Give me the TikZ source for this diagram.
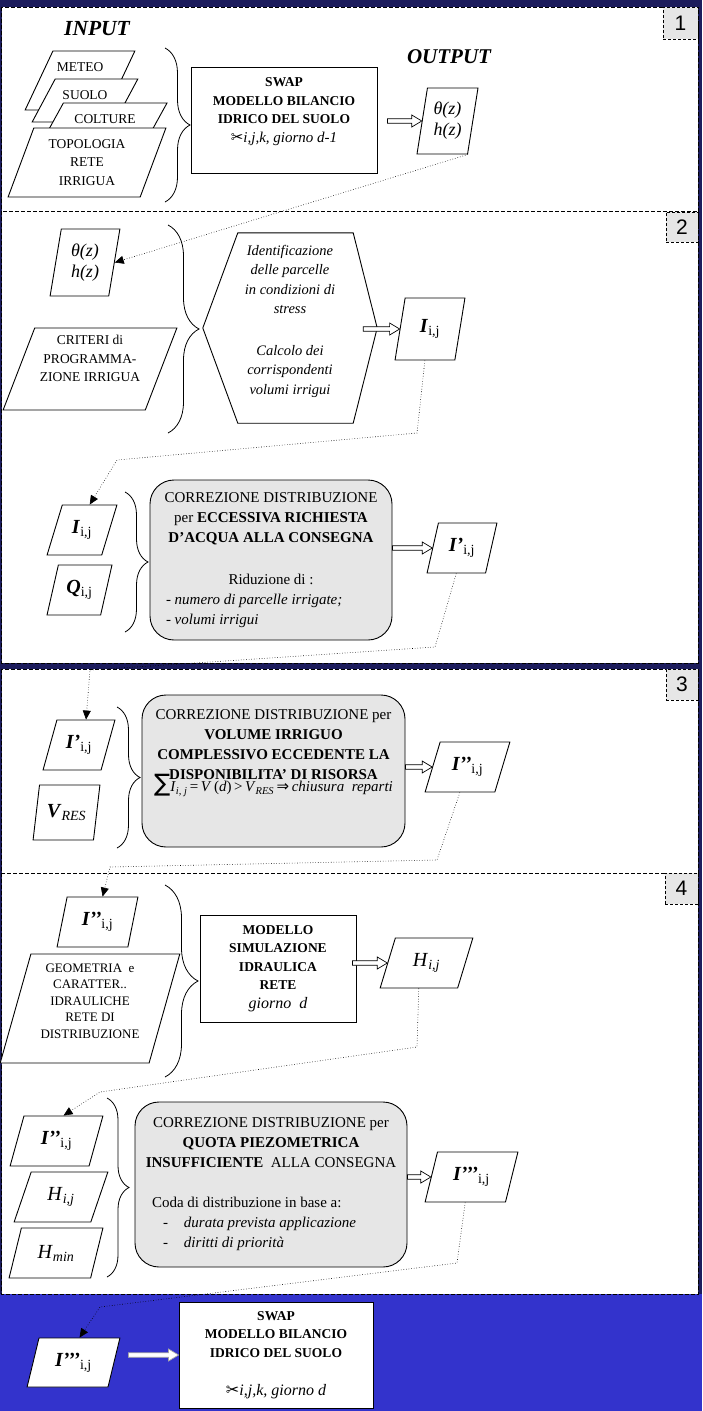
\documentclass[tikz,border=0pt]{standalone}
\usepackage{fontspec}
\setmainfont{Liberation Serif}
\newfontfamily\numfont{Liberation Sans}
\newfontfamily\symfont{DejaVu Sans}
\usetikzlibrary{arrows.meta,shapes.geometric,decorations.pathreplacing,calc}

\definecolor{navy}{RGB}{28,28,92}
\definecolor{royal}{RGB}{51,51,204}
\definecolor{boxgray}{RGB}{230,230,230}

\tikzset{
  panel/.style={draw, fill=white, line width=0.8pt, dash pattern=on 4pt off 2pt},
  numbox/.style={draw, fill=boxgray, line width=0.7pt, dash pattern=on 3pt off 2pt,
    inner sep=0pt, font=\numfont\fontsize{21}{21}\selectfont},
  para/.style 2 args={trapezium, trapezium stretches=true,
    trapezium left angle=#1, trapezium right angle=#2,
    draw, fill=white, line width=0.9pt, inner sep=0pt, align=center,
    font=\fontsize{13.5}{18.5}\selectfont},
  box/.style={draw, fill=white, line width=0.9pt, inner sep=0pt, align=center,
    font=\bfseries\fontsize{13.5}{18.5}\selectfont},
  roundbox/.style={draw, fill=boxgray, line width=0.9pt, rounded corners=24pt,
    inner sep=0pt, align=center, font=\fontsize{15}{20}\selectfont},
  brc/.style={decorate, decoration={brace, amplitude=#1}, line width=0.8pt},
  fat/.style={line width=0.7pt, fill=white, to path={
      ($(\tikztostart)+(#1,2.25)$) -- ($(\tikztotarget)+(-10,2.25)$)
      -- ($(\tikztotarget)+(-10,6)$) -- (\tikztotarget)
      -- ($(\tikztotarget)+(-10,-6)$) -- ($(\tikztotarget)+(-10,-2.25)$)
      -- ($(\tikztostart)+(#1,-2.25)$) -- cycle}},
  fat/.default=0,
  link/.style={dotted, line width=0.6pt, -{Triangle[length=9pt, width=8pt]}},
  big/.style={font=\fontsize{20}{24}\selectfont},
  theta/.style={font=\itshape\fontsize{18}{21}\selectfont}
}

\begin{document}
\begin{tikzpicture}[x=1pt,y=-1pt]
\useasboundingbox (0,0) rectangle (702,1411);
\fill[navy] (0,0) rectangle (702,1294);
\fill[royal] (0,1294) rectangle (702,1411);

% panels
\draw[panel] (1.5,7) rectangle (698,211);
\draw[panel] (1.5,211) rectangle (698,663);
\draw[panel] (1.5,669) rectangle (698,873);
\draw[panel] (1.5,873) rectangle (698,1294);
\node (n1) [numbox, minimum width=35pt, minimum height=32pt] at (680.5,23) {1};
\node (n2) [numbox, minimum width=32pt, minimum height=30pt] at (682,227) {2};
\node (n3) [numbox, minimum width=32pt, minimum height=31pt] at (682,684.5) {3};
\node (n4) [numbox, minimum width=33pt, minimum height=31pt] at (681.5,888.5) {4};

% 1
\node (input) [font=\bfseries\itshape\fontsize{21.5}{24}\selectfont] at (97,29) {INPUT};
\node (output) [font=\bfseries\itshape\fontsize{21}{24}\selectfont] at (449,57) {OUTPUT};
\node (meteo) [para={68}{112}, minimum width=110pt, minimum height=59pt, text height=20pt, text depth=39pt] at (80,80.5) {METEO};
\node (suolo) [para={68}{112}, minimum width=106pt, minimum height=43pt, text height=20pt, text depth=23pt] at (85,100.5) {SUOLO};
\node (colture) [para={68}{112}, minimum width=124pt, minimum height=37pt, text height=20pt, text depth=17pt] at (105,121.5) {COLTURE};
\node (topologia) [para={68}{112}, minimum width=158pt, minimum height=69pt] at (87,162.5) {TOPOLOGIA\\RETE\\IRRIGUA};
\draw[brc=25pt] (165,48) -- (165,202);
\node (swap1) [box, minimum width=186pt, minimum height=106pt] at (284,120)
  {SWAP\\MODELLO BILANCIO\\IDRICO DEL SUOLO\\{\mdseries\itshape\fontsize{15}{18.5}\selectfont{\symfont\upshape ✂}i,j,k, giorno d-1}\rule[-20pt]{0pt}{20pt}};
\node (out1) [para={79}{101}, theta, minimum width=61pt, minimum height=66pt] at (447.5,121) {θ(z)\\h(z)};
\draw[fat=10] (swap1.east |- out1.west) to (out1.west);

% 2
\node (th2) [para={80}{100}, theta, minimum width=70pt, minimum height=67pt] at (85,262.5) {θ(z)\\h(z)};
\node (crit) [para={67}{113}, minimum width=174pt, minimum height=82pt] at (90,369) {CRITERI di\\PROGRAMMA-\\ZIONE IRRIGUA\rule[-21pt]{0pt}{21pt}};
\draw[brc=31pt] (168,225) -- (168,433);
\node (hex) [minimum width=174pt, minimum height=190pt, inner sep=0pt, align=center, font=\itshape\fontsize{14.5}{19.5}\selectfont] at (290,328)
  {Identificazione\\delle parcelle\\in condizioni di\\stress\\[22pt]Calcolo dei\\corrispondenti\\volumi irrigui\rule[-17pt]{0pt}{17pt}};
\draw[line width=0.9pt] (hex.west) -- ([xshift=35pt]hex.north west) -- ([xshift=-24pt]hex.north east) -- (hex.east) -- ([xshift=-24pt]hex.south east) -- ([xshift=35pt]hex.south west) -- cycle;
\node (Iij) [para={78}{102}, big, minimum width=70pt, minimum height=62pt] at (430,329) {\textbf{\textit{I}}\textsubscript{i,j}};
\draw[fat=-14] (hex.east |- Iij.west) to (Iij.west);

\node (Iij2) [para={68}{112}, big, minimum width=70pt, minimum height=50pt] at (82,530) {\textbf{\textit{I}}\textsubscript{i,j}};
\node (Qij) [para={70}{110}, big, minimum width=65pt, minimum height=50pt] at (79.5,590) {\textbf{\textit{Q}}\textsubscript{i,j}};
\draw[brc=23pt] (125,492) -- (125,632);
\node (corr2) [roundbox, minimum width=242pt, minimum height=160pt] at (271,560)
  {CORREZIONE DISTRIBUZIONE\\
   per \textbf{ECCESSIVA RICHIESTA}\\
   \textbf{D’ACQUA ALLA CONSEGNA}\\[22pt]
   Riduzione di :\\
   \makebox[210pt][l]{- \textit{numero di parcelle irrigate;}}\\
   \makebox[210pt][l]{- \textit{volumi irrigui}}};
\node (Ipij) [para={72}{108}, big, minimum width=70pt, minimum height=50pt] at (462,548) {\textbf{\textit{I’}}\textsubscript{i,j}};
\draw[fat] (corr2.east |- Ipij.west) to (Ipij.west);

% 3
\node (Ipij3) [para={67}{113}, big, minimum width=72pt, minimum height=50pt] at (79,745) {\textbf{\textit{I’}}\textsubscript{i,j}};
\node (Vres) [para={74}{106}, big, minimum width=67pt, minimum height=55pt] at (66.5,812.5) {\textbf{\textit{V}}\textsubscript{\textit{RES}}};
\draw[brc=23pt] (117,707) -- (117,848);
\node (corr3) [roundbox, minimum width=263pt, minimum height=152pt] at (273.5,771)
  {CORREZIONE DISTRIBUZIONE per\\
   \textbf{VOLUME IRRIGUO}\\
   \textbf{COMPLESSIVO ECCEDENTE LA}\\
   \textbf{DISPONIBILITA’ DI RISORSA}\\[-8pt]
   {\symfont\fontsize{24}{24}\selectfont ∑}\textit{I}\textsubscript{\textit{i, j}}\,=\,\textit{V}\,(\textit{d})\,>\,\textit{V}\textsubscript{\textit{RES}}\,{\symfont ⇒}\,\textit{chiusura\ \ reparti}\rule[-40pt]{0pt}{40pt}};
\node (Ippij3) [para={66}{114}, big, minimum width=85pt, minimum height=50pt] at (467.5,767) {\textbf{\textit{I’’}}\textsubscript{i,j}};
\draw[fat] (corr3.east |- Ippij3.west) to (Ippij3.west);

% 4
\node (Ippij4) [para={75}{105}, big, minimum width=81pt, minimum height=50pt] at (97.5,922) {\textbf{\textit{I’’}}\textsubscript{i,j}};
\node (geom) [para={74}{106}, minimum width=180pt, minimum height=109pt, font=\fontsize{13}{16.5}\selectfont] at (90,1008.5)
  {GEOMETRIA\ \ e\\CARATTER..\\IDRAULICHE\\RETE DI\\DISTRIBUZIONE\rule[-15pt]{0pt}{15pt}};
\draw[brc=33pt] (165,885) -- (165,1077);
\node (model) [box, minimum width=156pt, minimum height=107pt] at (278,968.5)
  {MODELLO\\SIMULAZIONE\\IDRAULICA\\RETE\\{\mdseries\itshape\fontsize{16}{18.5}\selectfont giorno\ \ d}};
\node (Hij) [para={71}{109}, big, minimum width=93pt, minimum height=50pt] at (426.5,963) {\textit{H}\textsubscript{\textit{i,j}}};
\draw[fat=-4] (model.east |- Hij.west) to (Hij.west);

\node (Ippij4b) [para={71}{109}, big, minimum width=93pt, minimum height=50pt] at (56.5,1141) {\textbf{\textit{I’’}}\textsubscript{i,j}};
\node (Hij4) [para={68}{112}, big, minimum width=94pt, minimum height=50pt] at (61,1197) {\textit{H}\textsubscript{\textit{i,j}}};
\node (Hmin) [para={68}{112}, big, minimum width=94pt, minimum height=50pt] at (56,1253) {\textit{H}\textsubscript{\textit{min}}};
\draw[brc=22pt] (107,1098) -- (107,1277);
\node (corr4) [roundbox, minimum width=272pt, minimum height=165pt] at (271,1184.5)
  {CORREZIONE DISTRIBUZIONE per\\
   \textbf{QUOTA PIEZOMETRICA}\\
   \textbf{INSUFFICIENTE}\ \ ALLA CONSEGNA\\[20pt]
   \makebox[238pt][l]{Coda di distribuzione in base a:}\\
   \makebox[238pt][l]{\hspace{11pt}-\hspace{16pt}\textit{durata prevista applicazione}}\\
   \makebox[238pt][l]{\hspace{11pt}-\hspace{16pt}\textit{diritti di priorità}}};
\node (Ipppij) [para={71}{109}, big, minimum width=93pt, minimum height=50pt] at (471.5,1177) {\textbf{\textit{I’’’}}\textsubscript{i,j}};
\draw[fat] (corr4.east |- Ipppij.west) to (Ipppij.west);

% bottom
\node (Ipppij5) [para={72}{108}, big, minimum width=93pt, minimum height=49pt] at (73.5,1362.5) {\textbf{\textit{I’’’}}\textsubscript{i,j}};
\node (swap2) [box, minimum width=194pt, minimum height=106pt] at (276,1355)
  {SWAP\\MODELLO BILANCIO\\IDRICO DEL SUOLO\\[20pt]{\mdseries\itshape\fontsize{16}{18.5}\selectfont{\symfont\upshape ✂}i,j,k, giorno d}};
\draw[fat=14, draw=gray!70] (Ipppij5.east |- swap2.west) to (swap2.west);

% dotted links
\draw[link] (out1.bottom right corner) -- (th2.east);
\draw[link] (Iij.bottom side) -- (417,433) -- (117,460) -- (Iij2.top side);
\draw[link] (Ipij.bottom side) -- (435,647) -- (90,670) -- (Ipij3.top side);
\draw[link] (Ippij3.bottom side) -- (437,860) -- (110,867) -- (Ippij4.top side);
\draw[link] (Hij.bottom side) -- (417,1047) -- (100,1092) -- (Ippij4b.top side);
\draw[link] (Ipppij.bottom side) -- (457,1263) -- (100,1307) -- (Ipppij5.top side);
\end{tikzpicture}
\end{document}
